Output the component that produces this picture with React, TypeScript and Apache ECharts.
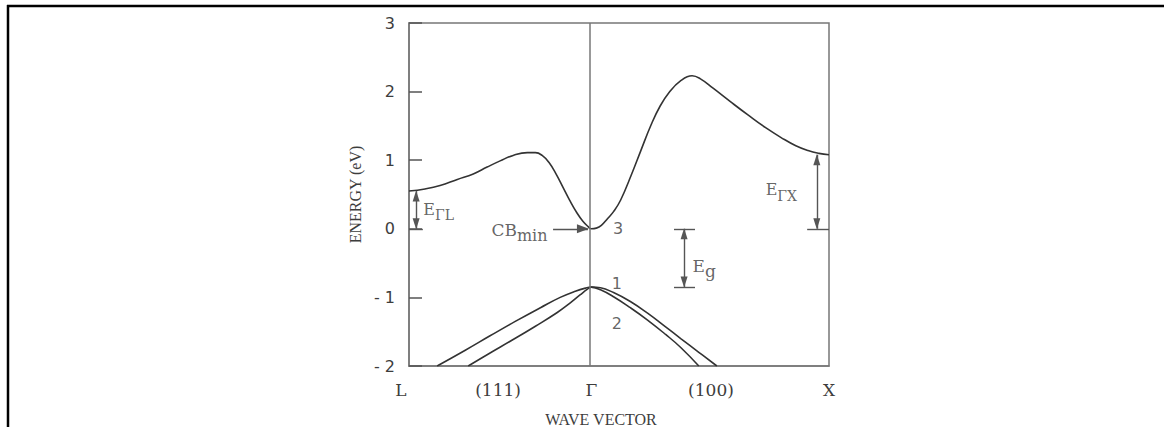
import React, { useEffect, useRef } from 'react';
import * as echarts from 'echarts';

// Wave-vector positions: L = 0, Γ = 0.434, X = 1 (ΓL shorter than ΓX)
const GAMMA = 0.434;
const xTickValues = [0, 0.212, 0.434, 0.719, 1];
const xTickLabels = ['L', '(111)', 'Γ', '(100)', 'X'];
const yMin = -2;
const yMax = 3;

// Conduction band (band 3)
const cbX = [
  0, 0.038, 0.074, 0.115, 0.153, 0.186, 0.217, 0.248, 0.282, 0.301, 0.317, 0.333, 0.35, 0.367, 0.383, 0.4, 0.414, 0.426, 0.434,
  0.446, 0.458, 0.473, 0.487, 0.504, 0.529, 0.552, 0.576, 0.598, 0.621, 0.645, 0.674, 0.693, 0.724, 0.766, 0.807, 0.85, 0.886, 0.921, 0.95, 0.976, 1,
];
const cbY = [
  0.55, 0.58, 0.63, 0.72, 0.8, 0.9, 0.99, 1.07, 1.11, 1.11, 1.07, 0.97, 0.8, 0.6, 0.41, 0.23, 0.11, 0.035, 0,
  0.01, 0.05, 0.15, 0.25, 0.42, 0.78, 1.14, 1.51, 1.79, 2.0, 2.15, 2.23, 2.19, 2.05, 1.85, 1.66, 1.47, 1.33, 1.21, 1.14, 1.1, 1.08,
];

// Valence band 1 (upper)
const vb1X = [0.067, 0.134, 0.193, 0.253, 0.313, 0.36, 0.396, 0.42, 0.434, 0.456, 0.487, 0.527, 0.568, 0.611, 0.647, 0.69, 0.733];
const vb1Y = [-2.0, -1.77, -1.56, -1.35, -1.15, -1.0, -0.91, -0.865, -0.85, -0.86, -0.93, -1.06, -1.23, -1.43, -1.6, -1.8, -2.0];

// Valence band 2 (lower)
const vb2X = [0.141, 0.193, 0.241, 0.301, 0.353, 0.384, 0.408, 0.425, 0.434, 0.456, 0.487, 0.527, 0.568, 0.611, 0.647, 0.69];
const vb2Y = [-2.0, -1.81, -1.64, -1.42, -1.22, -1.08, -0.96, -0.88, -0.85, -0.89, -0.99, -1.15, -1.33, -1.54, -1.73, -2.0];

const zip = (xs: number[], ys: number[]) => xs.map((x, i) => [x, ys[i]]);

const SERIF = '"DejaVu Serif", serif';
const TIMES = '"Liberation Serif", serif';
const SANS = '"DejaVu Sans", sans-serif';
const INK = '#333';
const FRAME = '#777';
const TXT = '#3d3d3d';

export default function App() {
  const ref = useRef<HTMLDivElement>(null);
  useEffect(() => {
    if (!ref.current) return;
    const chart = echarts.init(ref.current, undefined, { renderer: 'svg' });

    const cbMin = Math.min(...cbY);
    const vbTop = Math.max(...vb1Y);
    const eGL = cbY[0];
    const eGX = cbY[cbY.length - 1];

    const dbl = { symbol: ['triangle', 'triangle'], symbolSize: [7, 11], symbolOffset: [[0, 5], [0, 5]] };

    const textPoint = (x: number, y: number, formatter: string, position: string, rich?: any, fontSize = 16, family = SERIF) => ({
      type: 'scatter',
      data: [[x, y]],
      symbolSize: 1,
      itemStyle: { color: 'transparent' },
      silent: true,
      z: 6,
      label: {
        show: true,
        position,
        distance: 0,
        formatter,
        color: TXT,
        fontFamily: family,
        fontSize,
        rich,
      },
    });

    const subRich = (big: number, small: number) => ({
      e: { fontSize: big, fontFamily: SERIF, color: TXT, verticalAlign: 'bottom', lineHeight: big + 2, padding: [0, 0, 5, 0] },
      s: { fontSize: small, fontFamily: SERIF, color: TXT, verticalAlign: 'bottom', lineHeight: small + 2 },
    });

    const bandLine = (name: string, xs: number[], ys: number[]) => ({
      type: 'line',
      name,
      data: zip(xs, ys),
      smooth: 0.45,
      symbol: 'none',
      lineStyle: { color: INK, width: 1.6 },
      silent: true,
    });

    chart.setOption({
      animation: false,
      grid: {
        left: 409,
        top: 23,
        width: 420,
        height: 343,
        show: true,
        outerBoundsMode: 'none',
        containLabel: false,
        borderColor: FRAME,
        borderWidth: 1.5,
        backgroundColor: 'transparent',
      },
      xAxis: {
        type: 'value',
        min: 0,
        max: 1,
        name: 'WAVE VECTOR',
        nameLocation: 'middle',
        nameGap: 45,
        nameTextStyle: { fontFamily: TIMES, fontSize: 16, color: TXT, padding: [0, 36, 0, 0] },
        axisLine: { show: true, onZero: false, lineStyle: { color: FRAME, width: 1.5 } },
        axisTick: { show: false },
        splitLine: { show: false },
        axisLabel: {
          customValues: xTickValues,
          margin: 15,
          fontFamily: SERIF,
          fontSize: 17,
          color: TXT,
          hideOverlap: false,
          formatter: (v: number) => {
            const i = xTickValues.findIndex((t) => Math.abs(t - v) < 1e-6);
            const s = i >= 0 ? xTickLabels[i] : '';
            return i === 0 ? '{l|' + s + '}' : s;
          },
          rich: { l: { fontFamily: SERIF, fontSize: 17, color: TXT, padding: [0, 16, 0, 0] } },
        },
      },
      yAxis: {
        type: 'value',
        min: yMin,
        max: yMax,
        interval: 1,
        name: 'ENERGY (eV)',
        nameLocation: 'middle',
        nameGap: 46,
        nameRotate: 90,
        nameTextStyle: { fontFamily: TIMES, fontSize: 16, color: TXT },
        axisLine: { show: true, onZero: false, lineStyle: { color: FRAME, width: 1.5 } },
        axisTick: { show: true, inside: true, length: 13, lineStyle: { color: '#555', width: 1.5 } },
        splitLine: { show: false },
        axisLabel: {
          margin: 14,
          fontFamily: SANS,
          fontSize: 16,
          color: TXT,
          formatter: (v: number) => (v < 0 ? '- ' + Math.abs(v) : String(v)),
        },
      },
      graphic: [
        { type: 'line', shape: { x1: 7, y1: 6, x2: 1164, y2: 6 }, style: { stroke: '#000', lineWidth: 2.5 } },
        { type: 'line', shape: { x1: 8, y1: 5, x2: 8, y2: 427 }, style: { stroke: '#000', lineWidth: 2.5 } },
      ],
      series: [
        {
          ...bandLine('CB', cbX, cbY),
          markLine: {
            silent: true,
            symbol: 'none',
            label: { show: false },
            lineStyle: { color: FRAME, width: 1.5, type: 'solid' },
            data: [{ xAxis: GAMMA }],
          },
        },
        bandLine('VB1', vb1X, vb1Y),
        bandLine('VB2', vb2X, vb2Y),
        // arrows & bars
        {
          type: 'scatter',
          data: [],
          silent: true,
          markLine: {
            silent: true,
            animation: false,
            label: { show: false },
            lineStyle: { color: '#555', width: 1.4, type: 'solid' },
            itemStyle: { color: '#555' },
            ...dbl,
            data: [
              // E_ΓL
              [{ coord: [0.017, eGL] }, { coord: [0.017, cbMin] }],
              [{ coord: [0, cbMin], symbol: 'none' }, { coord: [0.033, cbMin], symbol: 'none' }],
              // E_g
              [{ coord: [0.655, cbMin] }, { coord: [0.655, vbTop] }],
              [{ coord: [0.631, cbMin], symbol: 'none' }, { coord: [0.681, cbMin], symbol: 'none' }],
              [{ coord: [0.631, vbTop], symbol: 'none' }, { coord: [0.681, vbTop], symbol: 'none' }],
              // E_ΓX
              [{ coord: [0.971, eGX] }, { coord: [0.971, cbMin] }],
              [{ coord: [0.948, cbMin], symbol: 'none' }, { coord: [1, cbMin], symbol: 'none' }],
              // CB min pointer
              [{ coord: [0.343, cbMin], symbol: 'none' }, { coord: [0.426, cbMin], symbolSize: [9, 12] }],
            ],
          },
        },
        textPoint(0.033, 0.23, '{e|E}{s|ΓL}', 'right', subRich(16, 14)),
        textPoint(0.331, -0.07, '{e|CB}{s|min}', 'left', subRich(17, 16)),
        textPoint(0.498, 0.0, '3', 'inside', undefined, 16, SANS),
        textPoint(0.495, -0.8, '1', 'inside', undefined, 16, SANS),
        textPoint(0.495, -1.38, '2', 'inside', undefined, 16, SANS),
        textPoint(0.674, -0.6, '{e|E}{s|g}', 'right', subRich(17, 17)),
        textPoint(0.848, 0.51, '{e|E}{s|ΓX}', 'right', subRich(16, 14)),
      ],
    } as any);

    return () => chart.dispose();
  }, []);

  return <div ref={ref} style={{ position: 'absolute', left: 0, top: 0, width: 1164, height: 427 }} />;
}
